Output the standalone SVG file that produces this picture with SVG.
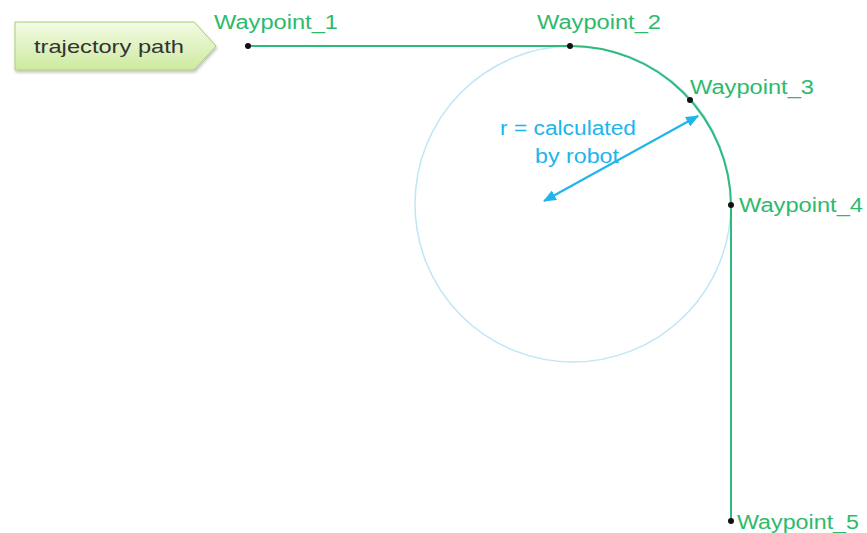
<svg xmlns="http://www.w3.org/2000/svg" width="867" height="533" viewBox="0 0 867 533">
<style>
.wp{font-family:"Liberation Sans","Open Sans",sans-serif;font-size:19.5px;fill:#2dba6c}
.bl{font-family:"Liberation Sans","Open Sans",sans-serif;font-size:20px;fill:#1eb4ec}
.path{fill:none;stroke:#2dba7a;stroke-width:2}
.dot{fill:#111}
</style>
<defs>
<linearGradient id="g" x1="0" y1="0" x2="0" y2="1">
<stop offset="0" stop-color="#f3fbe4"/>
<stop offset="1" stop-color="#cdeaa0"/>
</linearGradient>
<marker id="ah" viewBox="0 0 12 10" refX="11" refY="5" markerWidth="6.5" markerHeight="5.5" orient="auto-start-reverse">
<path d="M0,0 L12,5 L0,10 z" fill="#1eb4ec"/>
</marker>
<filter id="sh" x="-10%" y="-20%" width="130%" height="150%">
<feDropShadow dx="1" dy="2" stdDeviation="1.5" flood-color="#000" flood-opacity="0.25"/>
</filter>
</defs>
<g id="legend">
<path d="M15,22 L194,22 L216,46 L194,70 L15,70 Z" fill="url(#g)" stroke="#a9cf74" stroke-width="1" filter="url(#sh)"/>
<text x="34" y="53" font-family="Liberation Sans,Open Sans,sans-serif" font-size="19" fill="#333" textLength="150" lengthAdjust="spacingAndGlyphs">trajectory path</text>
</g>
<g id="circle">
<circle cx="573" cy="204" r="158" fill="none" stroke="#bfe6f6" stroke-width="1.5"/>
</g>
<g id="connectors">
<path class="path" d="M248,46 L570,46 A161,161 0 0 1 731,205 L731,521"/>
<line x1="544" y1="201" x2="698" y2="116" stroke="#1eb4ec" stroke-width="2" marker-start="url(#ah)" marker-end="url(#ah)"/>
</g>
<g id="wp1"><circle class="dot" cx="248" cy="46" r="3"/><text class="wp" x="214" y="29" textLength="124" lengthAdjust="spacingAndGlyphs">Waypoint_1</text></g>
<g id="wp2"><circle class="dot" cx="570" cy="46" r="3"/><text class="wp" x="537" y="29" textLength="124" lengthAdjust="spacingAndGlyphs">Waypoint_2</text></g>
<g id="wp3"><circle class="dot" cx="690" cy="100" r="3"/><text class="wp" x="690" y="94" textLength="124" lengthAdjust="spacingAndGlyphs">Waypoint_3</text></g>
<g id="wp4"><circle class="dot" cx="731" cy="205" r="3"/><text class="wp" x="739" y="212" textLength="124" lengthAdjust="spacingAndGlyphs">Waypoint_4</text></g>
<g id="wp5"><circle class="dot" cx="731" cy="521" r="3"/><text class="wp" x="737" y="529" textLength="122" lengthAdjust="spacingAndGlyphs">Waypoint_5</text></g>
<g id="label">
<text class="bl" x="500" y="135" textLength="136" lengthAdjust="spacingAndGlyphs">r = calculated</text>
<text class="bl" x="535" y="163" textLength="84" lengthAdjust="spacingAndGlyphs">by robot</text>
</g>
</svg>
